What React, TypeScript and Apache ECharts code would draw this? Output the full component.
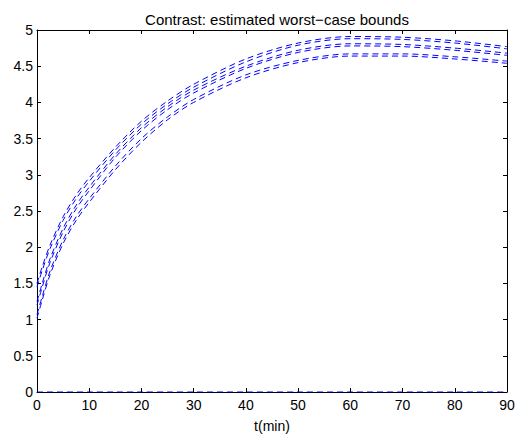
import React, { useEffect, useRef } from "react";
import * as echarts from "echarts";

const tValues = [0, 1, 2.5, 5, 7.5, 10, 15, 20, 25, 30, 40, 50, 60, 70, 80, 90];
const pair1a = [1.5, 1.73, 2.03, 2.42, 2.72, 2.96, 3.38, 3.74, 4.02, 4.25, 4.6, 4.82, 4.91, 4.9, 4.85, 4.77];
const pair1b = [1.45, 1.68, 1.98, 2.37, 2.67, 2.91, 3.34, 3.7, 3.98, 4.21, 4.56, 4.79, 4.88, 4.87, 4.82, 4.74];
const pair2a = [1.25, 1.5, 1.84, 2.26, 2.58, 2.83, 3.28, 3.65, 3.94, 4.17, 4.5, 4.72, 4.81, 4.8, 4.75, 4.68];
const pair2b = [1.2, 1.45, 1.79, 2.21, 2.53, 2.78, 3.24, 3.61, 3.9, 4.13, 4.47, 4.69, 4.78, 4.77, 4.72, 4.65];
const pair3a = [1.07, 1.32, 1.67, 2.1, 2.42, 2.67, 3.12, 3.5, 3.8, 4.04, 4.38, 4.58, 4.67, 4.67, 4.63, 4.57];
const pair3b = [1.02, 1.27, 1.62, 2.05, 2.37, 2.62, 3.07, 3.45, 3.76, 4.0, 4.34, 4.55, 4.64, 4.64, 4.6, 4.54];
const zeroLine = [0, 0, 0, 0, 0, 0, 0, 0, 0, 0, 0, 0, 0, 0, 0, 0];

const seriesList = [pair1a, pair1b, pair2a, pair2b, pair3a, pair3b, zeroLine];

const titleText = "Contrast: estimated worst−case bounds";
const xLabelText = "t(min)";

export default function App() {
  const ref = useRef<HTMLDivElement>(null);
  useEffect(() => {
    if (!ref.current) return;
    const chart = echarts.init(ref.current, undefined, { renderer: "svg" });
    const font = "Liberation Sans";
    const axisCommon = {
      axisLine: { show: true, onZero: false, lineStyle: { color: "#000", width: 1 } },
      axisTick: { show: true, inside: true, length: 4, lineStyle: { color: "#000" } },
      splitLine: { show: false },
    };
    chart.setOption({
      animation: false,
      backgroundColor: "#fff",
      title: {
        text: titleText,
        left: 272,
        textAlign: "center",
        top: 7,
        textStyle: { fontFamily: font, fontSize: 15, fontWeight: "normal", color: "#000" },
      },
      grid: { left: 37, right: 11, top: 30, bottom: 39, containLabel: false },
      xAxis: [
        {
          type: "value",
          min: 0,
          max: 90,
          interval: 10,
          position: "bottom",
          name: xLabelText,
          nameLocation: "middle",
          nameGap: 27,
          nameTextStyle: { fontFamily: font, fontSize: 14, color: "#000" },
          axisLabel: { fontFamily: font, fontSize: 14, color: "#000", margin: 6 },
          ...axisCommon,
        },
        {
          type: "value",
          min: 0,
          max: 90,
          interval: 10,
          position: "top",
          axisLabel: { show: false },
          ...axisCommon,
        },
      ],
      yAxis: [
        {
          type: "value",
          min: 0,
          max: 5,
          interval: 0.5,
          position: "left",
          axisLabel: { fontFamily: font, fontSize: 14, color: "#000", margin: 4 },
          ...axisCommon,
        },
        {
          type: "value",
          min: 0,
          max: 5,
          interval: 0.5,
          position: "right",
          axisLabel: { show: false },
          ...axisCommon,
        },
      ],
      series: seriesList.map((vals) => ({
        type: "line",
        data: tValues.map((t, i) => [t, vals[i]]),
        smooth: 0.3,
        showSymbol: false,
        symbol: "none",
        lineStyle: { color: "#0000ff", width: 1, type: [6, 4] },
        xAxisIndex: 0,
        yAxisIndex: 0,
      })),
    });
    return () => chart.dispose();
  }, []);
  return <div ref={ref} style={{ width: 518, height: 438, position: "absolute", left: 0, top: 0 }} />;
}
